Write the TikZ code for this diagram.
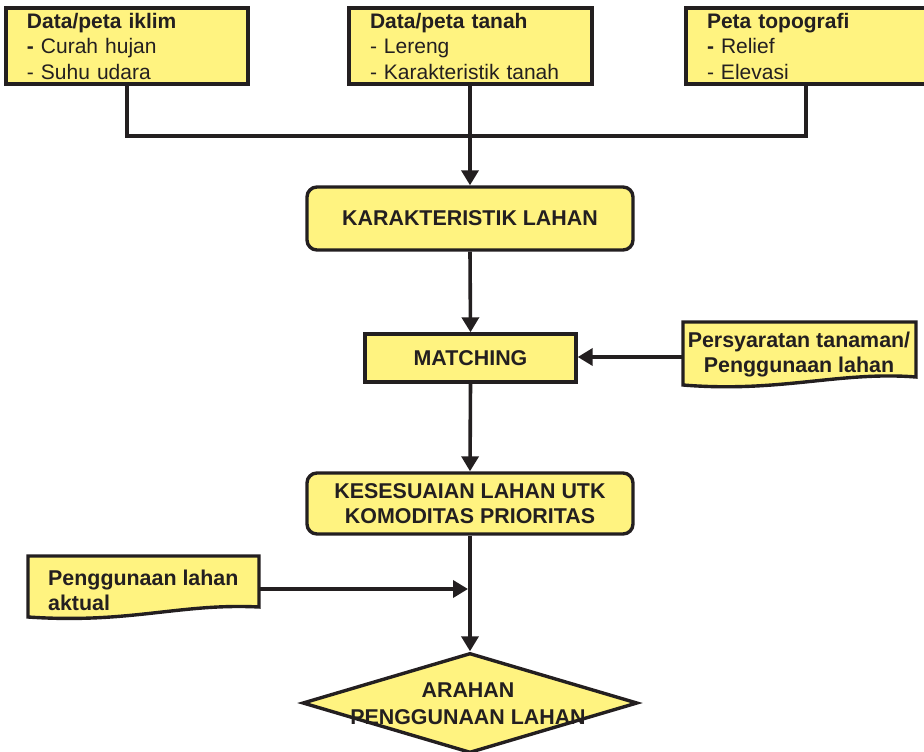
\documentclass[tikz,border=0pt]{standalone}
\usepackage{fontspec}
\setmainfont{Liberation Sans}
\usetikzlibrary{arrows.meta,shapes.geometric}
\definecolor{boxfill}{RGB}{255,243,128}
\definecolor{ink}{RGB}{35,31,32}
\begin{document}
\begin{tikzpicture}[x=1pt,y=-1pt,
  boxstyle/.style={draw=ink, line width=3.4pt, fill=boxfill},
  topbox/.style={boxstyle, rectangle, minimum height=76pt, inner xsep=21pt, inner ysep=0pt,
    align=left, text=ink, font=\fontsize{21}{25.5}\selectfont},
  mainbox/.style={boxstyle, rectangle, inner sep=0pt, align=center, text=ink,
    font=\bfseries\fontsize{21.4}{25.5}\selectfont},
  plaintext/.style={inner sep=0pt, text=ink, font=\bfseries\fontsize{21.4}{25}\selectfont},
  conn/.style={draw=ink, line width=3.6pt},
  arr/.style={conn, -{Triangle[width=17pt,length=15pt]}}
]
\useasboundingbox (0,0) rectangle (924,752);

% top source boxes
\node[topbox, minimum width=242pt, text width=200pt] (iklim) at (127,46)
  {\textbf{Data/peta iklim}\\\textbf{-} Curah hujan\\- Suhu udara};
\node[topbox, minimum width=243pt, text width=201pt] (tanah) at (470.5,46)
  {\textbf{Data/peta tanah}\\- Lereng\\- Karakteristik tanah};
\node[topbox, minimum width=240pt, text width=198pt] (topo) at (806,46)
  {\textbf{Peta topografi}\\\textbf{-} Relief\\- Elevasi};

% main flow
\node[mainbox, rounded corners=10pt, minimum width=326pt, minimum height=63pt] (kl) at (470,218.5)
  {KARAKTERISTIK LAHAN};
\node[mainbox, minimum width=211pt, minimum height=48pt] (match) at (470.5,358)
  {MATCHING};
\node[mainbox, rounded corners=10pt, minimum width=326pt, minimum height=61pt] (kes) at (470,503.5)
  {KESESUAIAN LAHAN UTK\\KOMODITAS PRIORITAS};
\node[boxstyle, diamond, aspect=3.35, minimum width=335pt, minimum height=100pt, inner sep=0pt] (arah) at (470,703) {};
\node[plaintext, align=center, font=\bfseries\fontsize{21.4}{27}\selectfont] (arahtxt) at (468,703.5)
  {ARAHAN\\PENGGUNAAN LAHAN};

% document shapes
\draw[boxstyle] (683,322) -- (916,322) -- (916,377)
  .. controls (840,371) and (780,393) .. (683,385) -- cycle;
\node[plaintext, align=center] (pers) at (799,355) {Persyaratan tanaman/\\Penggunaan lahan};
\coordinate (persL) at (683,357);

\draw[boxstyle] (28,556) -- (259,556) -- (259,607)
  .. controls (180,603) and (130,624) .. (28,617) -- cycle;
\node[plaintext, align=left, anchor=west] (aktual) at (48,590) {Penggunaan lahan\\aktual};
\coordinate (aktualR) at (259,589);
\coordinate (aktualE) at (468,589);

% connectors
\coordinate (join) at (470,136);
\draw[conn] (iklim.south) |- (join);
\draw[conn] (topo.south) |- (join);
\draw[conn] (tanah.south -| join) -- (join);
\draw[arr] (join) -- (kl.north);
\draw[arr] (kl.south) -- (match.north);
\draw[arr] (persL) -- (persL -| match.east);
\draw[arr] (match.south) -- (kes.north);
\draw[arr] (kes.south) -- (arah.north);
\draw[arr] (aktualR) -- (aktualE);
\end{tikzpicture}
\end{document}
